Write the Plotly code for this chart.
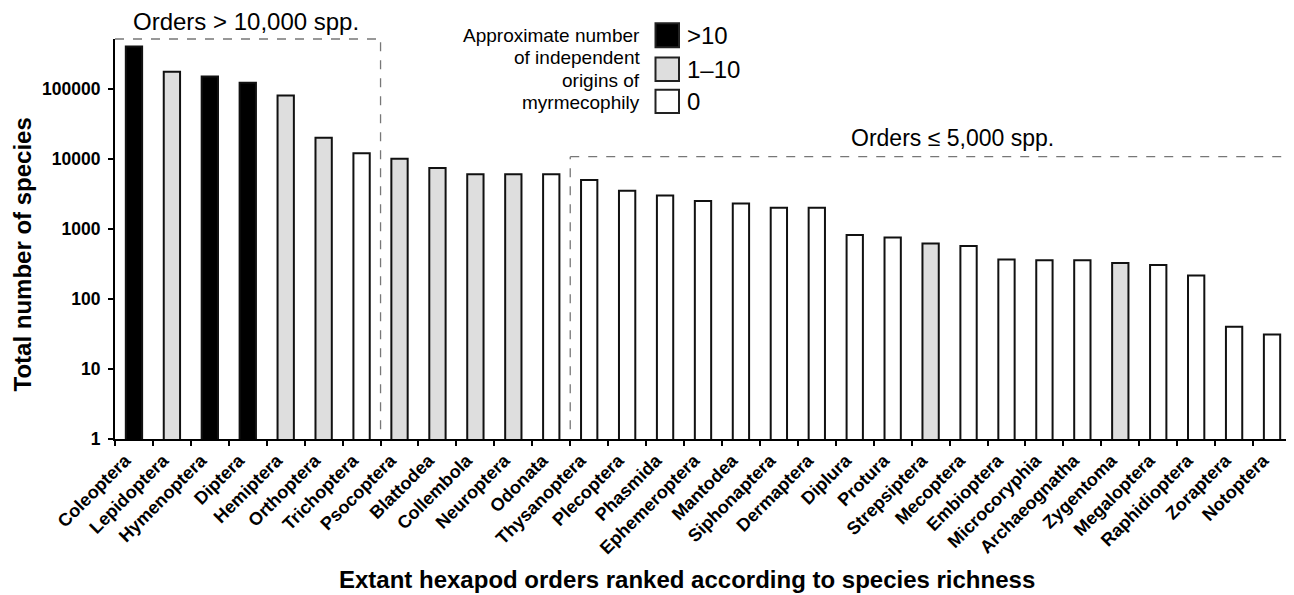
import plotly.graph_objects as go

orders = ["Coleoptera", "Lepidoptera", "Hymenoptera", "Diptera", "Hemiptera", "Orthoptera",
          "Trichoptera", "Psocoptera", "Blattodea", "Collembola", "Neuroptera", "Odonata",
          "Thysanoptera", "Plecoptera", "Phasmida", "Ephemeroptera", "Mantodea", "Siphonaptera",
          "Dermaptera", "Diplura", "Protura", "Strepsiptera", "Mecoptera", "Embioptera",
          "Microcoryphia", "Archaeognatha", "Zygentoma", "Megaloptera", "Raphidioptera",
          "Zoraptera", "Notoptera"]
species = [400000, 175000, 150000, 122000, 80000, 20000,
           12000, 10000, 7400, 6000, 6000, 6000,
           5000, 3500, 3000, 2500, 2300, 2000,
           2000, 820, 750, 620, 570, 365,
           355, 355, 325, 305, 215,
           40, 31]
origins = [">10", "1–10", ">10", ">10", "1–10", "1–10",
           "0", "1–10", "1–10", "1–10", "1–10", "0",
           "0", "0", "0", "0", "0", "0",
           "0", "0", "0", "1–10", "0", "0",
           "0", "0", "1–10", "0", "0",
           "0", "0"]
legend_cats = [">10", "1–10", "0"]
legend_title_lines = ["Approximate number", "of independent", "origins of", "myrmecophily"]
y_ticks = [1, 10, 100, 1000, 10000, 100000]

fill = {">10": "#000000", "1–10": "#dedede", "0": "#ffffff"}
FONT = "Liberation Sans, Arial, Helvetica, sans-serif"

# layout geometry: page body has an 8px margin, so figure pixels = screen pixels - OFF
OFF = 8
W, H = 1286, 587
L, T = 107, 30.5
PW = 1176
PH = 401
R = W - L - PW
B = H - T - PH
YTOP = 5.71
LABEL_SHIFT = -0.23  # tick labels sit slightly left of bar centres
def px(x):  # screen x -> paper
    return (x - OFF - L) / PW
def py(y):  # screen y -> paper
    return (T + PH - (y - OFF)) / PH

fig = go.Figure()
fig.add_trace(go.Bar(
    x=list(range(len(orders))), y=species,
    marker=dict(color=[fill[o] for o in origins], line=dict(color="#111111", width=2)),
    width=0.43, showlegend=False,
))

shapes = []
dash = dict(color="#777777", width=1.3, dash="dash")
n_big = sum(1 for s in species if s > 10000)
n_small_start = next(i for i, s in enumerate(species) if s <= 5000)
side_bottom = 0.14 / YTOP
# box: orders > 10,000 spp.
shapes.append(dict(type="line", xref="x", yref="y domain", x0=-0.5, x1=n_big - 0.5, y0=1, y1=1, line=dash))
shapes.append(dict(type="line", xref="x", yref="y domain", x0=n_big - 0.5, x1=n_big - 0.5, y0=side_bottom, y1=1, line=dash))
# box: orders <= 5,000 spp.
top2 = 4.03 / YTOP
xr = len(orders) - 0.5
shapes.append(dict(type="line", xref="x", yref="y domain", x0=n_small_start - 0.5, x1=xr, y0=top2, y1=top2, line=dash))
shapes.append(dict(type="line", xref="x", yref="y domain", x0=n_small_start - 0.5, x1=n_small_start - 0.5, y0=side_bottom, y1=top2, line=dash))
shapes.append(dict(type="line", xref="x", yref="y domain", x0=xr, x1=xr, y0=side_bottom, y1=top2, line=dash))

annotations = []
annotations.append(dict(text="Orders > 10,000 spp.", xref="paper", yref="paper", x=px(246), y=py(21),
                        showarrow=False, font=dict(family=FONT, size=24, color="black"),
                        xanchor="center", yanchor="middle"))
annotations.append(dict(text="Orders ≤ 5,000 spp.", xref="paper", yref="paper", x=px(952), y=py(138),
                        showarrow=False, font=dict(family=FONT, size=23, color="black"),
                        xanchor="center", yanchor="middle"))
for line_txt, yc in zip(legend_title_lines, [35, 57.5, 80, 102.5]):
    annotations.append(dict(text=line_txt, xref="paper", yref="paper", x=px(642), y=py(yc),
                            showarrow=False, font=dict(family=FONT, size=19, color="black"),
                            xanchor="right", yanchor="middle"))
for cat, (y0, y1) in zip(legend_cats, [(22.7, 46.7), (57, 80.5), (89.3, 112.7)]):
    shapes.append(dict(type="rect", xref="paper", yref="paper", x0=px(655.5), x1=px(679),
                       y0=py(y1), y1=py(y0), fillcolor=fill[cat], line=dict(color="#222222", width=2)))
    annotations.append(dict(text=cat, xref="paper", yref="paper", x=px(685), y=py((y0 + y1) / 2),
                            showarrow=False, font=dict(family=FONT, size=24, color="black"),
                            xanchor="left", yanchor="middle"))
annotations.append(dict(text="<b>Extant hexapod orders ranked according to species richness</b>",
                        xref="paper", yref="paper", x=px(687), y=py(580), showarrow=False,
                        font=dict(family=FONT, size=24, color="black"), xanchor="center", yanchor="middle"))
annotations.append(dict(text="<b>Total number of species</b>", xref="paper", yref="paper",
                        x=px(22.5), y=py(255), showarrow=False, textangle=-90,
                        font=dict(family=FONT, size=24, color="black"), xanchor="center", yanchor="middle"))

fig.update_layout(
    width=W, height=H,
    margin=dict(l=L, r=R, t=T, b=B, pad=0),
    plot_bgcolor="white", paper_bgcolor="white",
    shapes=shapes, annotations=annotations,
    font=dict(family=FONT, color="black"),
    xaxis=dict(
        range=[-0.5, len(orders) - 0.5], tickmode="array",
        tickvals=[i + LABEL_SHIFT for i in range(len(orders))],
        ticktext=[f"<b>{o}</b>" for o in orders],
        tickangle=-45, ticks="", showgrid=False, zeroline=False,
        showline=True, linecolor="black", linewidth=2,
        tickfont=dict(family=FONT, size=18, color="black"),
        ticklabelstandoff=2,
        minor=dict(tickmode="array", tickvals=[i - 0.5 for i in range(len(orders) + 1)],
                   ticks="outside", ticklen=5, tickwidth=2, tickcolor="black", showgrid=False),
    ),
    yaxis=dict(
        type="log", range=[0, YTOP], tickmode="array",
        tickvals=y_ticks, ticktext=[f"<b>{v}</b>" for v in y_ticks],
        ticks="outside", ticklen=5, tickwidth=2, tickcolor="black",
        showgrid=False, zeroline=False, showline=True, linecolor="black", linewidth=2,
        tickfont=dict(family=FONT, size=17.5, color="black"),
        ticklabelstandoff=4,
    ),
)

fig.write_html("out.html")
